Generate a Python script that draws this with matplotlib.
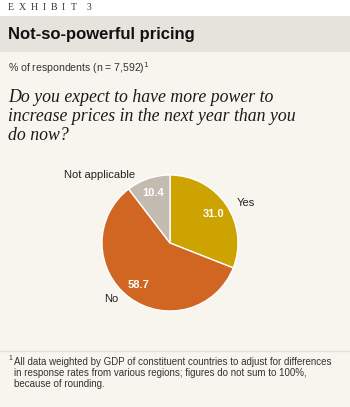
import matplotlib
matplotlib.use("Agg")
import matplotlib.pyplot as plt
from matplotlib.patches import Rectangle
from matplotlib.lines import Line2D
import numpy as np

# ---- data ----
categories = ["Yes", "No", "Not applicable"]
values = [31.0, 58.7, 10.4]
value_labels = ["31.0", "58.7", "10.4"]

colors = ["#CCA300", "#D06622", "#C3BBB0"]

W, H = 350, 407
fig = plt.figure(figsize=(W / 100, H / 100), dpi=100)
fig.patch.set_facecolor("#F8F5EE")

def fy(y):
    return 1 - y / H

def fx(x):
    return x / W

# bands
fig.patches.append(Rectangle((0, fy(16)), 1, 16 / H, transform=fig.transFigure,
                             facecolor="white", edgecolor="none", zorder=0))
fig.patches.append(Rectangle((0, fy(52)), 1, 36 / H, transform=fig.transFigure,
                             facecolor="#E5E3DC", edgecolor="none", zorder=0))
fig.lines.append(Line2D([0, 1], [fy(351), fy(351)], transform=fig.transFigure,
                        color="#E6E1D6", lw=1.0))

sans = ["Liberation Sans", "DejaVu Sans"]

# spaced small-caps style header
exhibit_chars = ["E", "X", "H", "I", "B", "I", "T", "3"]
exhibit_x = [8, 19, 31, 43, 51, 62, 71, 87]
for ch, x in zip(exhibit_chars, exhibit_x):
    fig.text(fx(x), fy(8), ch, family="Liberation Serif", fontsize=7,
             color="#333333", va="center", ha="left")

fig.text(fx(8), fy(35), "Not-so-powerful pricing", family="Liberation Sans",
         fontweight="bold", fontsize=12, color="#111111", va="center", ha="left")
fig.text(fx(8), fy(68), "% of respondents (n = 7,592)$^1$", family=sans,
         fontsize=7.6, color="#333333", va="center", ha="left")
fig.text(fx(8), fy(89),
         "Do you expect to have more power to\nincrease prices in the next year than you\ndo now?",
         family="Liberation Serif", style="italic", fontsize=12.8, color="#1A1A1A",
         va="top", ha="left", linespacing=1.17)

fig.text(fx(8), fy(355), "1", family=sans, fontsize=5, color="#333333",
         va="top", ha="left")
fig.text(fx(14), fy(357),
         "All data weighted by GDP of constituent countries to adjust for differences\n"
         "in response rates from various regions; figures do not sum to 100%,\n"
         "because of rounding.",
         family=sans, fontsize=7.0, color="#333333", va="top", ha="left",
         linespacing=1.14)

# ---- pie ----
cx, cy, r = 170, 243, 68
ax = fig.add_axes([fx(cx - r), fy(cy + r), 2 * r / W, 2 * r / H])
ax.set_facecolor("none")
wedges, _ = ax.pie(values, colors=colors, startangle=90, counterclock=False,
                   wedgeprops=dict(edgecolor="white", linewidth=1.0))
ax.set_xlim(-1, 1)
ax.set_ylim(-1, 1)
ax.set_aspect("equal")
ax.axis("off")

pct_dist = 0.77
for w, lab in zip(wedges, value_labels):
    ang = np.deg2rad((w.theta1 + w.theta2) / 2)
    ax.text(pct_dist * np.cos(ang), pct_dist * np.sin(ang), lab, color="white",
            fontweight="bold", family=sans, fontsize=8, ha="center", va="center")

# outer label positions (style, in pie units)
label_pos = {"Yes": (1.12, 0.59), "No": (-0.87, -0.82), "Not applicable": (-1.03, 1.0)}
for cat in categories:
    x, y = label_pos[cat]
    ax.text(x, y, cat, color="#222222", family=sans, fontsize=8,
            ha="center", va="center", clip_on=False)

fig.savefig("out.png", dpi=100, facecolor=fig.get_facecolor())
